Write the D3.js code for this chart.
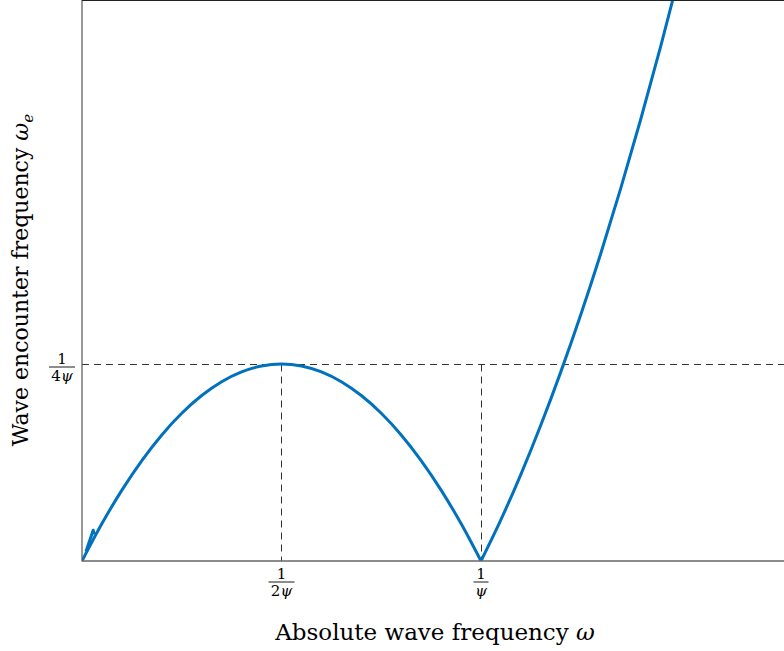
<!DOCTYPE html>
<html><head><meta charset="UTF-8">
<title>Wave encounter frequency</title>
<script src="https://d3js.org/d3.v7.min.js"></script>
<style>
  body { margin: 0; background: #fff; }
  text { font-family: "DejaVu Serif", "Liberation Serif", serif; fill: #000; }
</style>
</head>
<body>
<svg id="chart" width="784" height="651"></svg>
<script>
// values, in units where psi = 1
// left arch, 0 .. 1/psi
var archOmega  = [0, 0.05, 0.1, 0.15, 0.2, 0.25, 0.3, 0.35, 0.4, 0.45, 0.5, 0.55, 0.6, 0.65, 0.7, 0.75, 0.8, 0.85, 0.9, 0.95, 1.0];
var archOmegaE = [0, 0.0475, 0.09, 0.1275, 0.16, 0.1875, 0.21, 0.2275, 0.24, 0.2475, 0.25, 0.2475, 0.24, 0.2275, 0.21, 0.1875, 0.16, 0.1275, 0.09, 0.0475, 0];
// right branch, from 1/psi upwards
var branchOmega  = [1.0, 1.05, 1.1, 1.15, 1.2, 1.25, 1.3, 1.35, 1.4, 1.45, 1.5];
var branchOmegaE = [0, 0.0525, 0.11, 0.1725, 0.24, 0.3125, 0.39, 0.4725, 0.56, 0.6525, 0.75];
// little kink near the origin
var kinkOmega  = [0.01, 0.024, 0.028, 0.031];
var kinkOmegaE = [0.012, 0.033, 0.039, 0.034];

// ticks
var xTicks = [{v: 0.5, den: "2"}, {v: 1.0, den: ""}];
var yTicks = [{v: 0.25, den: "4"}];

var svg = d3.select("#chart");
var mLeft = 82, mTop = 0.5, mRight = 784, mBottom = 561;

var x = d3.scaleLinear().domain([0, (mRight - mLeft) / 399]).range([mLeft, mRight]);
var y = d3.scaleLinear().domain([0, (mBottom - mTop) / 788]).range([mBottom, mTop]);

var zip = function(a, b) { return a.map(function(d, i) { return [d, b[i]]; }); };

svg.append("clipPath").attr("id", "clip")
  .append("rect").attr("x", mLeft).attr("y", mTop).attr("width", mRight - mLeft).attr("height", mBottom - mTop);

// dashed guides
var yq = Math.round(y(0.25)) + 0.5;
var g = svg.append("g").attr("stroke", "#333").attr("stroke-width", 1).attr("stroke-dasharray", "7,5").attr("fill", "none");
g.append("line").attr("x1", mLeft).attr("x2", mRight).attr("y1", yq).attr("y2", yq);
xTicks.forEach(function(t) {
  var xx = Math.floor(x(t.v)) + 0.5;
  g.append("line").attr("x1", xx).attr("x2", xx).attr("y1", yq).attr("y2", mBottom);
});

// curve
var line = d3.line().x(function(d) { return x(d[0]); }).y(function(d) { return y(d[1]); }).curve(d3.curveMonotoneX);
var plot = svg.append("g").attr("clip-path", "url(#clip)").attr("fill", "none")
  .attr("stroke", "#0072BD").attr("stroke-width", 3).attr("stroke-linejoin", "round");
plot.append("path").attr("d", line(zip(archOmega, archOmegaE)));
plot.append("path").attr("d", line(zip(branchOmega, branchOmegaE)));
plot.append("path").attr("d", d3.line().x(function(d) { return x(d[0]); }).y(function(d) { return y(d[1]); })(zip(kinkOmega, kinkOmegaE)));

// frame
svg.append("line").attr("x1", mLeft).attr("x2", mLeft).attr("y1", 0).attr("y2", mBottom + 0.5).attr("stroke", "#555").attr("stroke-width", 1.2);
svg.append("line").attr("x1", mLeft).attr("x2", mRight).attr("y1", mBottom).attr("y2", mBottom).attr("stroke", "#666").attr("stroke-width", 1.4);
svg.append("line").attr("x1", mLeft).attr("x2", mRight).attr("y1", mTop).attr("y2", mTop).attr("stroke", "#222").attr("stroke-width", 1.2);

// fraction tick labels: 1 over (coefficient) italic psi
function fraction(cx, cy, den) {
  var f = svg.append("g").attr("transform", "translate(" + cx + "," + cy + ")");
  f.append("text").attr("text-anchor", "middle").attr("y", -3).attr("font-size", 15).text("1");
  var w = den.length > 0 ? 26 : 15;
  f.append("line").attr("x1", -w / 2).attr("x2", w / 2).attr("y1", 0).attr("y2", 0).attr("stroke", "#000").attr("stroke-width", 0.9);
  var d = f.append("text").attr("text-anchor", "middle").attr("y", 14).attr("font-size", 15).text(den);
  d.append("tspan").attr("font-style", "italic").text("ψ");
}
xTicks.forEach(function(t) { fraction(x(t.v), 582, t.den); });
yTicks.forEach(function(t) { fraction(62, y(t.v) + 3, t.den); });

// axis titles
svg.append("text").attr("x", 435).attr("y", 640).attr("text-anchor", "middle").attr("font-size", 23)
  .text("Absolute wave frequency ").append("tspan").attr("font-style", "italic").text("ω");
var yl = svg.append("text").attr("transform", "translate(28,280) rotate(-90)").attr("text-anchor", "middle").attr("font-size", 22)
  .text("Wave encounter frequency ");
yl.append("tspan").attr("font-style", "italic").text("ω");
yl.append("tspan").attr("font-style", "italic").attr("font-size", 15).attr("dy", 5).text("e");
</script>
</body></html>
